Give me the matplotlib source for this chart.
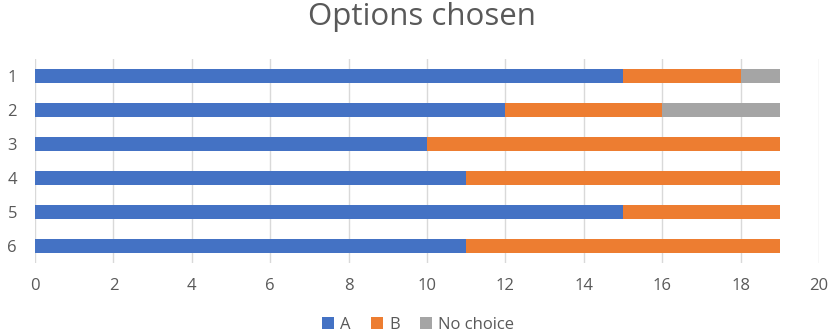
import numpy as np
import matplotlib.pyplot as plt

# data
questions = ['1', '2', '3', '4', '5', '6']
opt_a = [15, 12, 10, 11, 15, 11]
opt_b = [3, 4, 9, 8, 4, 8]
no_choice = [1, 3, 0, 0, 0, 0]
series_names = ['A', 'B', 'No choice']
colors = ['#4472C4', '#ED7D31', '#A5A5A5']

plt.rcParams['font.family'] = ['Open Sans', 'DejaVu Sans']
txt = '#595959'

fig = plt.figure(figsize=(8.36, 3.36), dpi=100)
ax = fig.add_axes([35/836, 73/336, 784/836, 204/336])

y = np.arange(len(questions))
left = np.zeros(len(questions))
for vals, name, c in zip([opt_a, opt_b, no_choice], series_names, colors):
    ax.barh(y, vals, left=left, height=0.41, color=c, label=name, zorder=3)
    left += np.array(vals)

ax.set_xlim(0, 20)
ax.set_ylim(len(questions) - 0.5, -0.5)
ax.set_xticks(range(0, 21, 2))
ax.set_yticks(y)
ax.set_yticklabels(questions)
ax.grid(axis='x', color='#D9D9D9', linewidth=1, zorder=0)
for s in ax.spines.values():
    s.set_visible(False)
ax.tick_params(length=0, colors=txt, labelsize=12)
ax.tick_params(axis='x', pad=11)
ax.tick_params(axis='y', pad=13)

fig.suptitle('Options chosen', x=0.505, y=0.995, fontsize=22.5, color=txt)
fig.legend(loc='lower center', bbox_to_anchor=(0.5, -0.035), ncol=3, frameon=False,
           fontsize=12, labelcolor=txt, handlelength=0.75, handleheight=0.75,
           handletextpad=0.35, columnspacing=1.2)

fig.savefig('out.png', dpi=100)
